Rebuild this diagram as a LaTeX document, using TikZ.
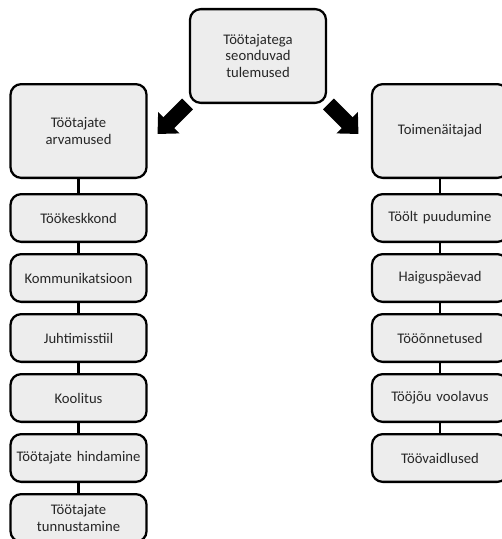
\documentclass[tikz,border=0pt]{standalone}
\usepackage{fontspec}
\setmainfont{Carlito}
\usetikzlibrary{positioning,arrows.meta}

\begin{document}
\begin{tikzpicture}[
      box/.style={rectangle, rounded corners=8pt, draw, line width=1.7pt, fill=gray!14,
        text=black!85, align=center, inner sep=2pt, text width=98pt,
        font=\fontsize{11}{12.5}\selectfont},
      big/.style={box, minimum width=101pt, minimum height=70.3pt},
      small/.style={box, minimum width=101pt, minimum height=35.8pt},
      link/.style={line width=1.7pt},
      bigarrow/.style={line width=11.5pt, -{Triangle[length=12pt, width=22pt]}}
      ]
      \useasboundingbox (-193.5pt,42pt) rectangle (183pt,-362.25pt);
      \clip (-193.5pt,42pt) rectangle (183pt,-362.25pt);

      \node[big] (top) at (0,0) {Töötajatega\\seonduvad\\tulemused};

      % left column
      \node[big] (views) at (-134.6pt,-56.25pt) {Töötajate\\arvamused};
      \node[small, below=10.5pt of views] (env) {Töökeskkond};
      \node[small, below=7.5pt of env] (comm) {Kommunikatsioon};
      \node[small, below=7.5pt of comm] (lead) {Juhtimisstiil};
      \node[small, below=7.5pt of lead] (train) {Koolitus};
      \node[small, below=7.5pt of train] (appr) {Töötajate hindamine};
      \node[small, below=7.5pt of appr] (recog) {Töötajate\\tunnustamine};

      % right column
      \node[big] (perf) at (136.5pt,-56.25pt) {Toimenäitajad};
      \node[small, below=10.5pt of perf] (absent) {Töölt puudumine};
      \node[small, below=7.5pt of absent] (sick) {Haiguspäevad};
      \node[small, below=7.5pt of sick] (accid) {Tööõnnetused};
      \node[small, below=7.5pt of accid] (turn) {Tööjõu voolavus};
      \node[small, below=7.5pt of turn] (disp) {Töövaidlused};

      \draw[link] (views) -- (env) -- (comm) -- (lead) -- (train) -- (appr) -- (recog);
      \draw[link] (perf) -- (absent) -- (sick) -- (accid) -- (turn) -- (disp);

      % block arrows
      \coordinate (ltip) at ([shift={(-23.5pt,-22.5pt)}]top.south west);
      \coordinate (rtip) at ([shift={(23.5pt,-22.5pt)}]top.south east);
      \draw[bigarrow] ([xshift=-1pt]top.south west) -- (ltip);
      \draw[bigarrow] ([xshift=1pt]top.south east) -- (rtip);
    \end{tikzpicture}
\end{document}
